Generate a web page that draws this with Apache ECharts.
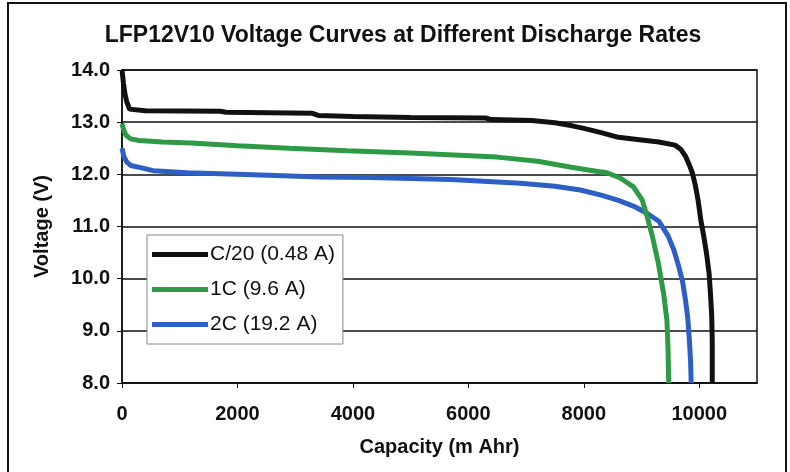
<!DOCTYPE html>
<html><head><meta charset="utf-8">
<script src="https://cdn.jsdelivr.net/npm/echarts@6/dist/echarts.min.js"></script>
<style>html,body{margin:0;padding:0;background:#fff}#c{width:790px;height:472px}</style>
</head><body><div id="c"></div>
<script>
const titleText = 'LFP12V10 Voltage Curves at Different Discharge Rates';
const xName = 'Capacity (m Ahr)';
const yName = 'Voltage (V)';
const seriesNames = ['C/20 (0.48 A)', '1C (9.6 A)', '2C (19.2 A)'];

const c20Cap  = [0,25,50,80,130,400,1700,1800,3300,3400,4000,5000,6300,6400,7100,7500,7800,8000,8300,8600,9000,9300,9580,9680,9760,9820,9880,9930,9980,10030,10080,10130,10170,10195,10215,10225,10225];
const c20Volt = [14.0,13.75,13.55,13.4,13.25,13.22,13.21,13.19,13.17,13.13,13.11,13.09,13.08,13.05,13.03,12.99,12.93,12.88,12.8,12.71,12.66,12.62,12.56,12.48,12.35,12.2,12.03,11.8,11.5,11.1,10.8,10.45,10.1,9.7,9.3,8.8,8.0];

const c1Cap  = [0,30,70,150,300,700,1200,2000,2900,3900,5000,6500,7200,7760,8100,8400,8630,8860,9010,9100,9190,9290,9380,9440,9460,9470];
const c1Volt = [12.97,12.85,12.75,12.68,12.65,12.62,12.6,12.55,12.5,12.45,12.41,12.33,12.25,12.14,12.08,12.03,11.93,11.76,11.51,11.18,10.8,10.3,9.73,9.2,8.6,8.0];

const c2Cap  = [0,30,80,150,360,540,1130,2270,3430,4300,5700,6900,7500,7940,8300,8600,8900,9100,9300,9460,9560,9640,9710,9760,9800,9830,9850,9860];
const c2Volt = [12.5,12.35,12.24,12.17,12.12,12.07,12.03,11.99,11.95,11.94,11.9,11.83,11.77,11.7,11.6,11.5,11.37,11.25,11.1,10.82,10.55,10.25,9.95,9.6,9.25,8.8,8.4,8.0];

const colors = ['#111111', '#2f9a45', '#2d5fc4'];
const zip = (a, b) => a.map((v, i) => [v, b[i]]);
const dataSets = [zip(c20Cap, c20Volt), zip(c1Cap, c1Volt), zip(c2Cap, c2Volt)];

const chart = echarts.init(document.getElementById('c'));
const F = 'Liberation Sans, Arial, sans-serif';
chart.setOption({
  animation: false,
  backgroundColor: '#fff',
  textStyle: { fontFamily: F },
  title: {
    text: titleText, left: 398, top: 19, textAlign: 'center',
    textStyle: { fontFamily: F, fontSize: 23, fontWeight: 'bold', color: '#111' }
  },
  grid: { left: 122, right: 33, top: 70, bottom: 89, show: true, borderColor: '#111', borderWidth: 1.5, containLabel: false },
  xAxis: {
    type: 'value', min: 0, max: 11000, interval: 2000,
    name: xName, nameLocation: 'middle', nameGap: 54,
    nameTextStyle: { fontFamily: F, fontSize: 20, fontWeight: 'bold', color: '#111' },
    axisLine: { show: true, lineStyle: { color: '#111', width: 1.5 } },
    axisTick: { show: true, length: 5, lineStyle: { color: '#111' } },
    axisLabel: { fontFamily: F, fontSize: 20, fontWeight: 'bold', color: '#111', margin: 21, showMaxLabel: false, formatter: v => String(v) },
    splitLine: { show: false }
  },
  yAxis: {
    type: 'value', min: 8, max: 14, interval: 1,
    name: yName, nameLocation: 'middle', nameGap: 70, nameRotate: 90,
    nameTextStyle: { fontFamily: F, fontSize: 20, fontWeight: 'bold', color: '#111' },
    axisLine: { show: true, lineStyle: { color: '#111', width: 1.5 } },
    axisTick: { show: true, length: 5, lineStyle: { color: '#111' } },
    axisLabel: { fontFamily: F, fontSize: 20, fontWeight: 'bold', color: '#111', margin: 12, formatter: v => v.toFixed(1) },
    splitLine: { show: true, lineStyle: { color: '#111', width: 1.5 } }
  },
  legend: {
    orient: 'vertical', left: 147, top: 235,
    backgroundColor: '#fff', borderColor: '#888', borderWidth: 1,
    padding: [9, 8, 9, 5], itemGap: 14,
    itemWidth: 56, itemHeight: 5, icon: 'rect',
    textStyle: { fontFamily: F, fontSize: 21, color: '#111', padding: [0, 0, 0, -3] },
    data: seriesNames
  },
  series: seriesNames.map((n, i) => ({
    name: n, type: 'line', data: dataSets[i], showSymbol: false, smooth: false,
    lineStyle: { color: colors[i], width: 5 }, itemStyle: { color: colors[i] }, z: 3 - i
  })),
  graphic: [{
    type: 'rect', shape: { x: 8, y: 3, width: 778, height: 480 },
    style: { fill: null, stroke: '#111', lineWidth: 2 }, silent: true
  }]
});
</script></body></html>
